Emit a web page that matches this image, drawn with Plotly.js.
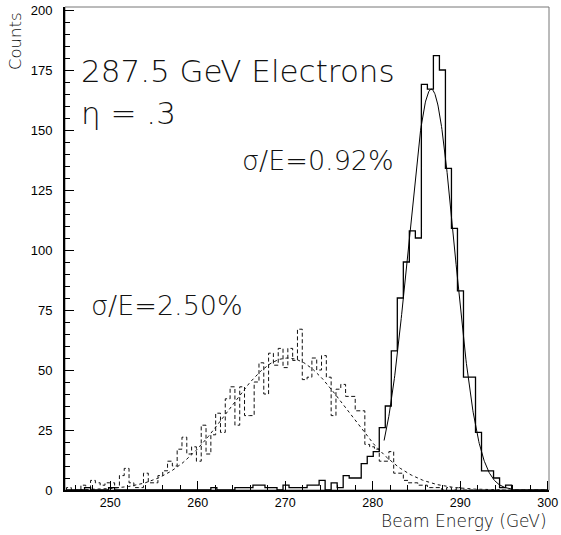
<!DOCTYPE html>
<html><head><meta charset="utf-8">
<script src="https://cdn.plot.ly/plotly-3.0.1.min.js"></script>
<style>html,body{margin:0;padding:0;background:#fff}</style>
</head><body><div id="chart" style="width:561px;height:535px"></div>
<script>
// Solid histogram (sigma/E = 0.92%), 80 bins from 245 GeV
const solidStart = 245, solidWidth = 0.6875;
const solidCounts = [
  0,0,0,1,0,0,0,1,0,0,
  0,0,0,0,0,0,0,0,0,0,
  0,0,0,0,1,0,0,0,1,1,
  1,2,2,1,1,0,2,1,1,1,
  2,2,4,0,3,1,6,5,5,11,
  14,16,26,35,58,80,95,108,105,169,
  167,181,175,134,109,83,47,47,24,8,
  8,5,1,2,0,0,0,0,0,0
];
// Dashed histogram (sigma/E = 2.50%), 100 bins from 245 GeV
const dashStart = 245, dashWidth = 0.55;
const dashCounts = [
  1,0,0,2,0,4,3,2,3,3,
  1,6,9,3,1,1,7,3,3,6,
  8,12,10,17,22,15,18,12,27,15,
  23,32,24,38,43,27,43,31,31,45,
  53,40,57,52,59,51,59,54,67,46,
  47,55,50,56,47,31,42,44,39,39,
  33,33,19,18,17,12,12,16,7,7,
  4,3,3,2,2,1,1,1,0,1,
  0,1,0,0,0,0,0,0,0,0,
  0,0,0,0,0,0,0,0,0,0
];
// Gaussian fit parameters
const solidFit = {amp: 167, mean: 286.7, sigma: 2.64, from: 281.3, to: 296.0};
const dashFit  = {amp: 55,  mean: 270.3, sigma: 6.76, from: 246.5, to: 294.5};
const xTickVals = [250, 260, 270, 280, 290, 300];
const yTickVals = [0, 25, 50, 75, 100, 125, 150, 175, 200];

function stepXY(start, width, counts) {
  const xs = [start], ys = [0];
  for (let i = 0; i < counts.length; i++) { xs.push(start + i * width); ys.push(counts[i]); }
  xs.push(start + counts.length * width); ys.push(0);
  return {xs, ys};
}
function gaussXY(f) {
  const xs = [], ys = [], n = 300;
  for (let i = 0; i <= n; i++) {
    const x = f.from + (f.to - f.from) * i / n;
    xs.push(x);
    ys.push(f.amp * Math.exp(-0.5 * Math.pow((x - f.mean) / f.sigma, 2)));
  }
  return {xs, ys};
}
const sH = stepXY(solidStart, solidWidth, solidCounts);
const dH = stepXY(dashStart, dashWidth, dashCounts);
const sG = gaussXY(solidFit);
const dG = gaussXY(dashFit);

const traces = [
  {x: dH.xs, y: dH.ys, type: 'scatter', mode: 'lines', line: {shape: 'hv', color: '#111', width: 1, dash: '4px,2.5px'}, hoverinfo: 'skip'},
  {x: dG.xs, y: dG.ys, type: 'scatter', mode: 'lines', line: {color: '#111', width: 1, dash: '3px,3px'}, hoverinfo: 'skip'},
  {x: sH.xs, y: sH.ys, type: 'scatter', mode: 'lines', line: {shape: 'hv', color: '#000', width: 1.3}, hoverinfo: 'skip'},
  {x: sG.xs, y: sG.ys, type: 'scatter', mode: 'lines', line: {color: '#000', width: 1}, hoverinfo: 'skip'}
];

const thin = {family: 'DejaVu Sans', weight: 200, color: '#111'};
const layout = {
  width: 561, height: 535,
  margin: {l: 65, r: 12, t: 7, b: 45},
  paper_bgcolor: '#fff', plot_bgcolor: '#fff',
  showlegend: false,
  font: {family: 'Liberation Sans', size: 13, color: '#000'},
  xaxis: {
    range: [244.83, 300.15], showgrid: false, zeroline: false,
    tickvals: xTickVals, ticks: 'inside', ticklen: 9, tickwidth: 1, tickcolor: '#000',
    showline: true, linecolor: '#000', linewidth: 2,
    minor: {dtick: 2, tick0: 244, ticks: 'inside', ticklen: 5, tickcolor: '#000', tickwidth: 1, showgrid: false},
    tickfont: {family: 'Liberation Sans', size: 12.5, color: '#000'}, ticklabelstandoff: 0
  },
  yaxis: {
    range: [0, 201.25], showgrid: false, zeroline: false,
    tickvals: yTickVals, ticks: 'inside', ticklen: 9, tickwidth: 1, tickcolor: '#000',
    showline: true, linecolor: '#000', linewidth: 2,
    minor: {dtick: 5, tick0: 0, ticks: 'inside', ticklen: 5, tickcolor: '#000', tickwidth: 1, showgrid: false},
    tickfont: {family: 'Liberation Sans', size: 13, color: '#000'}, ticklabelstandoff: 8
  },
  shapes: [{type: 'rect', xref: 'paper', yref: 'paper', x0: 0, x1: 1, y0: 0, y1: 1, line: {color: '#777', width: 1}, layer: 'below'}],
  annotations: [
    {text: '287.5 GeV Electrons', xref: 'x', yref: 'y', x: 246.43, y: 174.4, xanchor: 'left', yanchor: 'middle', showarrow: false, font: Object.assign({size: 31}, thin)},
    {text: 'η = .3', xref: 'x', yref: 'y', x: 246.43, y: 156.9, xanchor: 'left', yanchor: 'middle', showarrow: false, font: Object.assign({size: 31}, thin)},
    {text: 'σ/E=0.92%', xref: 'x', yref: 'y', x: 264.8, y: 137.3, xanchor: 'left', yanchor: 'middle', showarrow: false, font: Object.assign({size: 27}, thin)},
    {text: 'σ/E=2.50%', xref: 'x', yref: 'y', x: 247.6, y: 76.9, xanchor: 'left', yanchor: 'middle', showarrow: false, font: Object.assign({size: 27}, thin)},
    {text: 'Counts', xref: 'paper', yref: 'paper', x: -0.101, y: 0.994, xanchor: 'center', yanchor: 'top', textangle: -90, showarrow: false, font: Object.assign({size: 16.5}, thin)},
    {text: 'Beam Energy (GeV)', xref: 'paper', yref: 'paper', x: 1.0, y: -0.064, xanchor: 'right', yanchor: 'middle', showarrow: false, font: Object.assign({size: 17}, thin)}
  ]
};
Plotly.newPlot('chart', traces, layout, {staticPlot: true, displayModeBar: false});
</script>
</body></html>
